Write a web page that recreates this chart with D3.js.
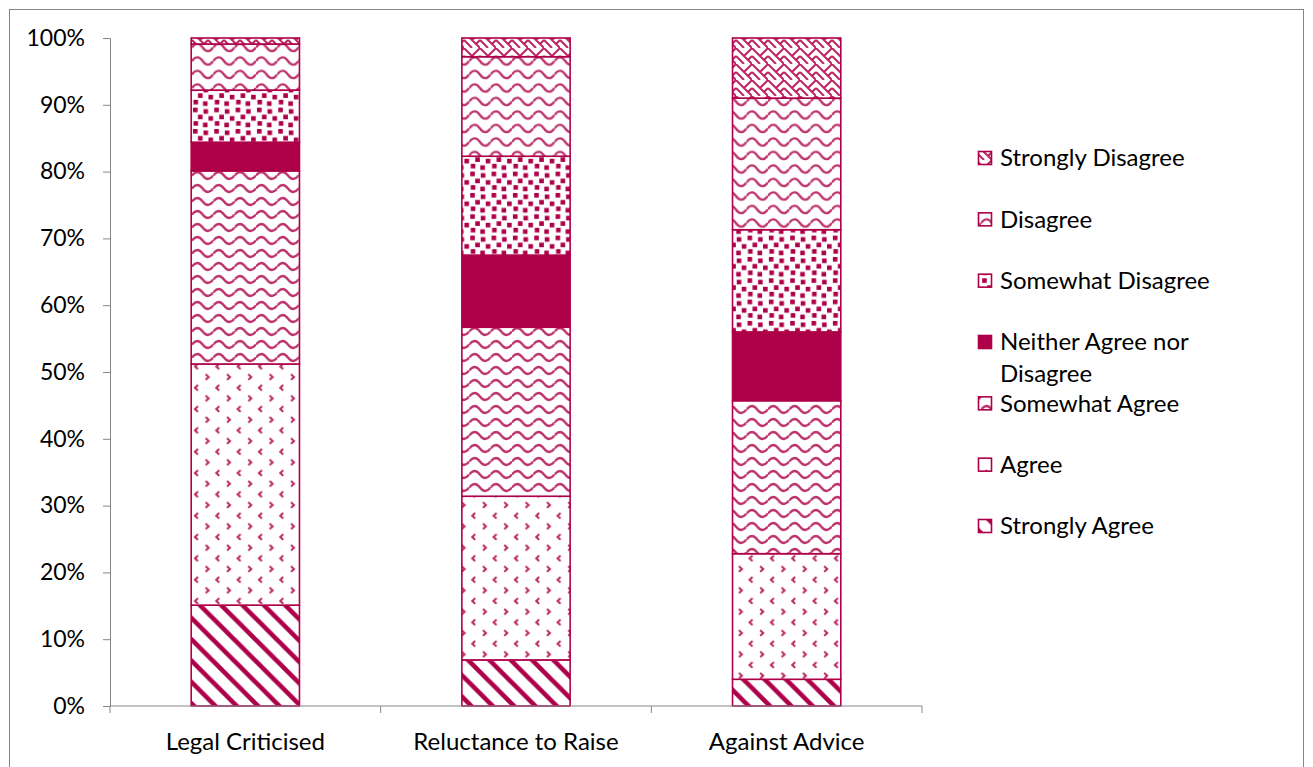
<!DOCTYPE html>
<html><head><meta charset="utf-8">
<script src="https://cdn.jsdelivr.net/npm/d3@7"></script>
<style>body{margin:0;background:#fff;} svg{display:block;} text{font-family:Lato, "Open Sans", sans-serif;fill:#000;}</style>
</head><body><svg id="c" width="1313" height="767"></svg>
<script>
const categories = ["Legal Criticised", "Reluctance to Raise", "Against Advice"];
const seriesNames = ["Strongly Agree", "Agree", "Somewhat Agree", "Neither Agree nor Disagree", "Somewhat Disagree", "Disagree", "Strongly Disagree"];
const stronglyAgree = [15.1, 6.9, 4.0];
const agree = [36.1, 24.5, 18.8];
const somewhatAgree = [28.9, 25.3, 22.9];
const neither = [4.3, 10.8, 10.3];
const somewhatDisagree = [7.8, 14.8, 15.3];
const disagree = [6.9, 14.9, 19.7];
const stronglyDisagree = [0.9, 2.8, 9.0];
const yTicks = [0,10,20,30,40,50,60,70,80,90,100];

const seriesValues = [stronglyAgree, agree, somewhatAgree, neither, somewhatDisagree, disagree, stronglyDisagree];
const C = "#ad0048";
const svg = d3.select("#c");
const defs = svg.append("defs");
const T = 21.33;

function pat(id, w, h, draw){
  const p = defs.append("pattern").attr("id", id).attr("patternUnits","userSpaceOnUse").attr("width", w).attr("height", h);
  p.append("rect").attr("width", w).attr("height", h).attr("fill","#fff");
  draw(p);
}
// Strongly Agree: wide downward diagonal
pat("p0", T, T, p => {
  p.append("path").attr("d", `M${-T/2},${-T/2} L${T*1.5},${T*1.5} M${-T/2},${T/2} L${T/2},${T*1.5} M${T/2},${-T/2} L${T*1.5},${T/2}`)
   .attr("stroke", C).attr("stroke-width", 4.6);
});
// Agree: divot
pat("p1", T, T, p => {
  p.append("path").attr("d", "M6,1 L3,3.8 L6,6.6 M13.7,11.7 L16.7,14.5 L13.7,17.3")
   .attr("stroke", C).attr("stroke-width", 2).attr("fill","none").attr("opacity",0.85);
});
// Somewhat Agree: wave
pat("p2", T, 13, p => {
  p.append("path").attr("d", `M0,6.5 Q${T/4},-0.5 ${T/2},6.5 T${T},6.5`)
   .attr("stroke", C).attr("stroke-width", 2.3).attr("fill","none").attr("opacity",0.8);
});
// Neither: solid
pat("p3", 4, 4, p => { p.select("rect").attr("fill", C); });
// Somewhat Disagree: large confetti
pat("p4", T, T, p => {
  [[1,1],[11.5,2.5],[6,8],[16.5,9.5],[1.5,14.5],[11,16]].forEach(([x,y]) =>
    p.append("rect").attr("x",x).attr("y",y).attr("width",4.6).attr("height",4.6).attr("fill",C));
});
// Disagree: wave
pat("p5", T, 13.5, p => {
  p.append("path").attr("d", `M0,7 Q${T/4},-0.5 ${T/2},7 T${T},7`)
   .attr("stroke", C).attr("stroke-width", 2.3).attr("fill","none").attr("opacity",0.8);
});
// Strongly Disagree: weave
const W = 16;
pat("p6", W, W, p => {
  p.append("path").attr("d", `M0,0 L${W/2},${W/2} L${W},0 M${W/4},${W*0.75} L${W/2},${W} M${W*0.75},${W*0.75} L${W},${W/2} M${W/2},${W/2} L${W},${W} M0,${W/2} L${W/4},${W*0.75}`)
   .attr("stroke", C).attr("stroke-width", 2).attr("fill","none").attr("opacity",0.85);
});

// outer border
svg.append("rect").attr("x",9.5).attr("y",9.5).attr("width",1294).attr("height",800).attr("fill","none").attr("stroke","#868686").attr("stroke-width",1);

const x = d3.scaleBand().domain(categories).range([110, 922]).paddingInner(0).paddingOuter(0);
const y = d3.scaleLinear().domain([0, 100]).range([706, 38]);
const barW = x.bandwidth() * 0.4;

// stacking
const rows = categories.map((c, i) => {
  const o = {cat: c};
  seriesNames.forEach((s, j) => o[s] = seriesValues[j][i]);
  return o;
});
const stack = d3.stack().keys(seriesNames)(rows);

const g = svg.append("g");
stack.forEach((layer, j) => {
  g.selectAll(null).data(layer).enter().append("rect")
    .attr("x", d => x(d.data.cat) + x.bandwidth()/2 - barW/2)
    .attr("y", d => y(d[1]))
    .attr("width", barW)
    .attr("height", d => y(d[0]) - y(d[1]))
    .attr("fill", `url(#p${j})`)
    .attr("stroke", C).attr("stroke-width", 1.6);
});

// y axis
const yAxis = svg.append("g").attr("transform","translate(110,0)")
  .call(d3.axisLeft(y).tickValues(yTicks).tickFormat(d => d + "%").tickSize(7).tickPadding(18));
yAxis.select(".domain").attr("stroke","#868686");
yAxis.selectAll(".tick line").attr("stroke","#868686");
yAxis.selectAll(".tick text").attr("font-size", 23).attr("font-family","Lato").attr("fill","#000");

// x axis
const xAxis = svg.append("g").attr("transform","translate(0,706)")
  .call(d3.axisBottom(x).tickSize(0).tickPadding(0));
xAxis.select(".domain").attr("stroke","#868686").attr("d","M110,0H922");
xAxis.selectAll(".tick text").attr("font-size", 24).attr("font-family","Lato").attr("fill","#000").attr("y", 36).attr("dy","0.35em");
const bounds = x.domain().map(d => x(d)).concat([922]);
xAxis.selectAll(".bt").data(bounds).enter().append("line").attr("class","bt")
  .attr("x1", d => d).attr("x2", d => d).attr("y1", 0).attr("y2", 7).attr("stroke","#868686");

// legend
const legendOrder = seriesNames.map((s, j) => ({s, j})).reverse();
const ly = d3.scaleLinear().domain([0, 6]).range([158, 526]);
const lg = svg.append("g");
legendOrder.forEach((d, i) => {
  const cy = ly(i);
  lg.append("rect").attr("x", 978.5).attr("y", cy - 6.5).attr("width", 13).attr("height", 13)
    .attr("fill", `url(#p${d.j})`).attr("stroke", C).attr("stroke-width", 1.6);
  const t = lg.append("text").attr("x", 1000).attr("y", cy).attr("dy","0.35em").attr("font-size", 24);
  if (d.s === "Neither Agree nor Disagree") {
    t.append("tspan").attr("x",1000).text("Neither Agree nor");
    t.append("tspan").attr("x",1000).attr("dy", 32).text("Disagree");
  } else t.text(d.s);
});
</script></body></html>
